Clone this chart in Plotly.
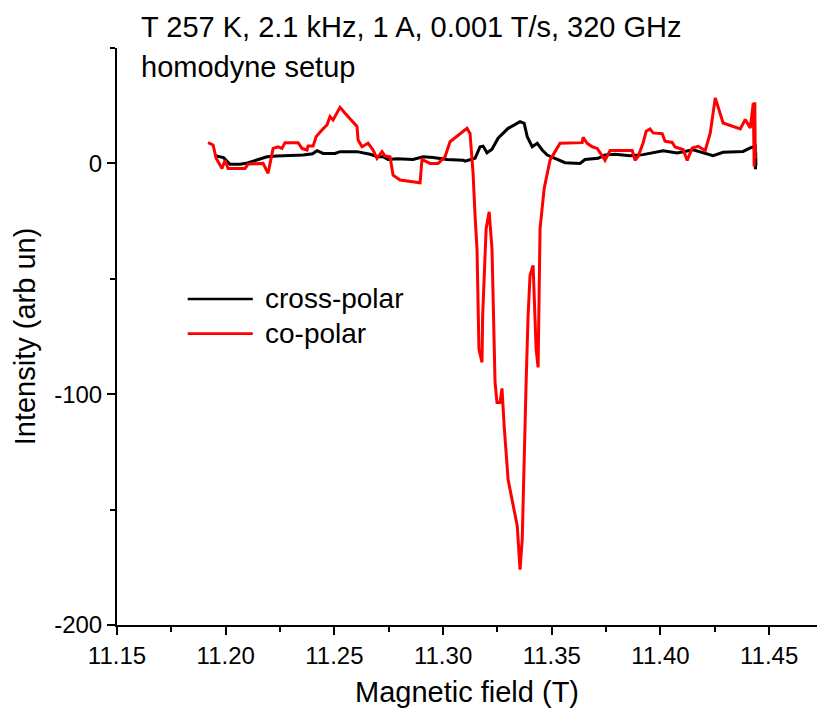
import plotly.graph_objects as go

# Magnetic field sweep (T) and detector intensity (arb. units)
cross_field = [
    11.1951, 11.1990, 11.2020, 11.2066, 11.2100, 11.2144, 11.2190, 11.2236,
    11.2300, 11.2356, 11.2400, 11.2420, 11.2448, 11.2503, 11.2526, 11.2604,
    11.2664, 11.2696, 11.2724, 11.2747, 11.2788, 11.2862, 11.2908, 11.2954,
    11.3018, 11.3092, 11.3101, 11.3147, 11.3170, 11.3184, 11.3202, 11.3225,
    11.3253, 11.3299, 11.3354, 11.3373, 11.3387, 11.3410, 11.3433, 11.3456,
    11.3479, 11.3515, 11.3561, 11.3630, 11.3653, 11.3713, 11.3745, 11.3768,
    11.3791, 11.3860, 11.3920, 11.4012, 11.4077, 11.4150, 11.4242, 11.4288,
    11.4380, 11.4413, 11.4436, 11.4437, 11.4438, 11.4439,
]
cross_intensity = [
    3.3, 2.5, -0.4, -0.4, 0.2, 1.4, 2.9, 3.2,
    3.3, 3.6, 4.2, 5.5, 4.3, 4.3, 5.1, 5.1,
    4.0, 2.9, 2.9, 1.7, 2.0, 1.7, 2.9, 2.6,
    1.7, 1.4, 1.0, 2.2, 7.2, 7.5, 4.6, 6.1,
    10.9, 15.2, 18.1, 17.4, 11.6, 7.2, 8.7, 5.8,
    3.6, 2.2, 0.3, 0.0, 1.7, 2.2, 3.6, 3.8,
    4.0, 3.3, 3.8, 5.5, 4.5, 5.9, 3.3, 4.8,
    5.2, 6.7, 7.4, -2.5, 5.0, -1.0,
]

co_field = [
    11.1919, 11.1942, 11.1956, 11.1974, 11.1983, 11.1997, 11.2011, 11.2089,
    11.2103, 11.2172, 11.2195, 11.2218, 11.2241, 11.2259, 11.2273, 11.2333,
    11.2351, 11.2374, 11.2379, 11.2402, 11.2416, 11.2443, 11.2466, 11.2480,
    11.2494, 11.2526, 11.2549, 11.2604, 11.2609, 11.2627, 11.2655, 11.2678,
    11.2696, 11.2719, 11.2733, 11.2756, 11.2770, 11.2802, 11.2894, 11.2903,
    11.2940, 11.2977, 11.3009, 11.3032, 11.3110, 11.3124, 11.3138, 11.3147,
    11.3156, 11.3165, 11.3179, 11.3182, 11.3198, 11.3212, 11.3225, 11.3239,
    11.3248, 11.3262, 11.3271, 11.3281, 11.3299, 11.3341, 11.3354, 11.3364,
    11.3373, 11.3382, 11.3391, 11.3400, 11.3414, 11.3423, 11.3428, 11.3437,
    11.3442, 11.3446, 11.3465, 11.3492, 11.3515, 11.3538, 11.3640, 11.3644,
    11.3663, 11.3686, 11.3709, 11.3722, 11.3745, 11.3768, 11.3870, 11.3883,
    11.3897, 11.3920, 11.3934, 11.3952, 11.3966, 11.4008, 11.4021, 11.4054,
    11.4067, 11.4104, 11.4123, 11.4146, 11.4173, 11.4206, 11.4229, 11.4252,
    11.4288, 11.4367, 11.4390, 11.4413, 11.4427, 11.4431, 11.4434, 11.4436,
]
co_intensity = [
    9.0, 8.0, 2.2, -0.7, -2.2, 1.4, -2.2, -2.2,
    -0.3, 0.0, -4.3, 6.5, 7.2, 6.5, 9.0, 9.0,
    6.5, 5.8, 7.5, 7.5, 11.6, 14.5, 16.7, 20.3,
    18.8, 24.3, 21.7, 16.0, 10.1, 7.2, 8.7, 5.8,
    2.2, 5.1, 3.2, 2.9, -5.1, -7.2, -8.4, 1.7,
    0.0, 0.0, 2.9, 9.4, 15.2, 13.0, -4.3, -22.5,
    -37.0, -80.4, -86.2, -66.0, -28.3, -21.0, -37.0, -94.8,
    -103.6, -103.6, -97.5, -113.8, -137.0, -157.0, -176.0, -163.0,
    -124.0, -94.8, -66.0, -48.6, -44.2, -66.0, -80.4, -88.4,
    -58.7, -28.3, -10.9, 1.4, 5.1, 8.7, 9.0, 11.3,
    8.7, 7.2, 6.5, 4.6, 1.4, 5.6, 5.6, 1.3,
    3.0, 8.8, 13.9, 14.9, 13.2, 12.9, 9.6, 9.1,
    7.1, 6.0, 1.3, 6.7, 7.4, 5.6, 13.2, 28.4,
    17.5, 14.9, 19.0, 15.3, 26.2, -1.3, 26.5, 2.0,
]

x_ticks = [11.15, 11.20, 11.25, 11.30, 11.35, 11.40, 11.45]
x_ticklabels = ["11.15", "11.20", "11.25", "11.30", "11.35", "11.40", "11.45"]
y_ticks = [-200, -100, 0]
y_ticklabels = ["-200", "-100", "0"]

FONT = "Liberation Sans, Arial, sans-serif"

fig = go.Figure()
fig.add_trace(go.Scatter(x=cross_field, y=cross_intensity, mode="lines",
                         name="cross-polar", line=dict(color="black", width=3)))
fig.add_trace(go.Scatter(x=co_field, y=co_intensity, mode="lines",
                         name="co-polar", line=dict(color="#ff0000", width=3)))

axis_common = dict(
    showline=True, linecolor="black", linewidth=2,
    ticks="outside", ticklen=8, tickwidth=2, tickcolor="black",
    showgrid=False, zeroline=False, mirror=False,
    tickfont=dict(family=FONT, size=24, color="black"),
    title_font=dict(family=FONT, size=29, color="black"),
)

fig.update_xaxes(
    range=[11.15, 11.472], tickmode="array", tickvals=x_ticks, ticktext=x_ticklabels,
    minor=dict(tickmode="linear", tick0=11.175, dtick=0.05, ticks="outside",
               ticklen=5, tickwidth=2, tickcolor="black"),
    title_text="Magnetic field (T)", title_standoff=14,
    **axis_common,
)
fig.update_yaxes(
    range=[-200, 50], tickmode="array", tickvals=y_ticks, ticktext=y_ticklabels,
    minor=dict(tickmode="linear", tick0=-150, dtick=100, ticks="outside",
               ticklen=5, tickwidth=2, tickcolor="black"),
    title_text="Intensity (arb un)", title_standoff=10,
    **axis_common,
)

# Legend drawn as sample lines with labels inside the plot area
legend_items = [("cross-polar", "black", 0.565), ("co-polar", "#ff0000", 0.505)]
for label, color, yy in legend_items:
    fig.add_shape(type="line", xref="paper", yref="paper",
                  x0=0.101, x1=0.194, y0=yy, y1=yy,
                  line=dict(color=color, width=2.6))
    fig.add_annotation(xref="paper", yref="paper", x=0.209, y=yy, text=label,
                       showarrow=False, xanchor="left", yanchor="middle",
                       font=dict(family=FONT, size=28, color="black"))

fig.add_annotation(xref="paper", yref="paper", x=0.031, y=1.036,
                   text="T 257 K, 2.1 kHz, 1 A, 0.001 T/s, 320 GHz",
                   showarrow=False, xanchor="left", yanchor="middle",
                   font=dict(family=FONT, size=29, color="black"))
fig.add_annotation(xref="paper", yref="paper", x=0.031, y=0.967,
                   text="homodyne setup",
                   showarrow=False, xanchor="left", yanchor="middle",
                   font=dict(family=FONT, size=29, color="black"))

fig.update_layout(
    width=817, height=714,
    margin=dict(l=117, r=0, t=48, b=89),
    paper_bgcolor="white", plot_bgcolor="white",
    showlegend=False,
    font=dict(family=FONT, color="black"),
)

fig.write_html("out.html")
